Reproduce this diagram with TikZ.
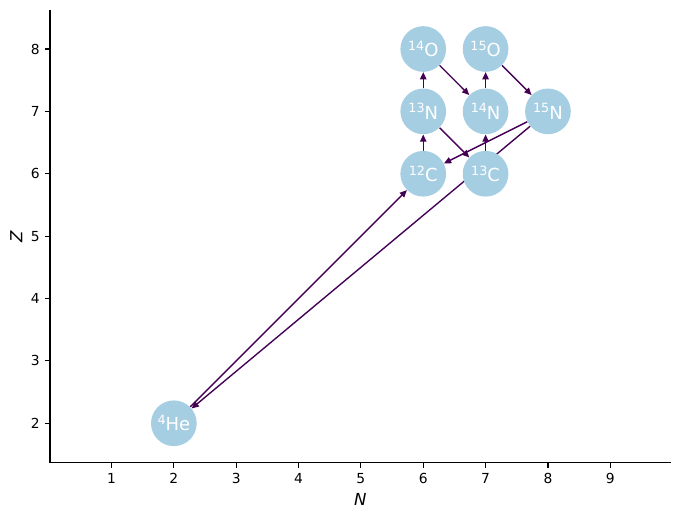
\documentclass[tikz,border=0pt]{standalone}
\usepackage{fontspec}
\setmainfont{DejaVu Sans}
\definecolor{nodeblue}{HTML}{A6CEE3}
\definecolor{edgepurple}{HTML}{440154}
\usetikzlibrary{arrows.meta, backgrounds}
\newcommand{\iso}[2]{\raisebox{4.6pt}{\fontsize{9.2}{11}\selectfont #1}#2}
\tikzset{
	nucleus/.style={circle, fill=nodeblue, draw=none, inner sep=0pt, minimum size=0.457in, text=white, font=\fontsize{13}{15}\selectfont},
	arrow/.style={-{Triangle[length=5.2pt, width=4.6pt]}, line width=1pt, draw=edgepurple},
	spine/.style={line width=0.8pt, draw=black},
	ticklabel/.style={inner sep=0pt, font=\fontsize{10}{12}\selectfont},
	axislabel/.style={inner sep=0pt, font=\fontsize{12}{14}\selectfont\itshape},
}

\begin{document}
\begin{tikzpicture}[x=0.6235in, y=0.6238in]
	\useasboundingbox (-0.7883,0.4819) rectangle (10.118,8.7858);
	% axes
	\draw[spine] (0.0136,8.626) -- (0.0136,1.368) -- (9.969,1.368);
	\foreach \n in {1,...,9}
		\draw[spine] (\n,1.368) -- ++(0,-3.5pt) node[ticklabel, below=3.5pt] {\n};
	\foreach \z in {2,...,8}
		\draw[spine] (0.0136,\z) -- ++(-3.5pt,0) node[ticklabel, left=3.5pt] {\z};
	\node[axislabel] (xlab) at (4.99,0.786) {N};
	\node[axislabel, rotate=90] (ylab) at (-0.527,4.997) {Z};
	% nuclei
	\node[nucleus] (he4) at (2,2) {\iso{4}{He}};
	\node[nucleus] (c12) at (6,6) {\iso{12}{C}};
	\node[nucleus] (c13) at (7,6) {\iso{13}{C}};
	\node[nucleus] (n13) at (6,7) {\iso{13}{N}};
	\node[nucleus] (n14) at (7,7) {\iso{14}{N}};
	\node[nucleus] (n15) at (8,7) {\iso{15}{N}};
	\node[nucleus] (o14) at (6,8) {\iso{14}{O}};
	\node[nucleus] (o15) at (7,8) {\iso{15}{O}};
	% reactions
	\begin{scope}[on background layer]
		\draw[arrow] (he4) -- (c12);
		\draw[arrow] (c12) -- (n13);
		\draw[arrow] (n13) -- (o14);
		\draw[arrow] (n13) -- (c13);
		\draw[arrow] (o14) -- (n14);
		\draw[arrow] (c13) -- (n14);
		\draw[arrow] (n14) -- (o15);
		\draw[arrow] (o15) -- (n15);
		\draw[arrow] (n15) -- (c12);
		\draw[arrow] (n15) -- (he4);
	\end{scope}
\end{tikzpicture}
\end{document}
